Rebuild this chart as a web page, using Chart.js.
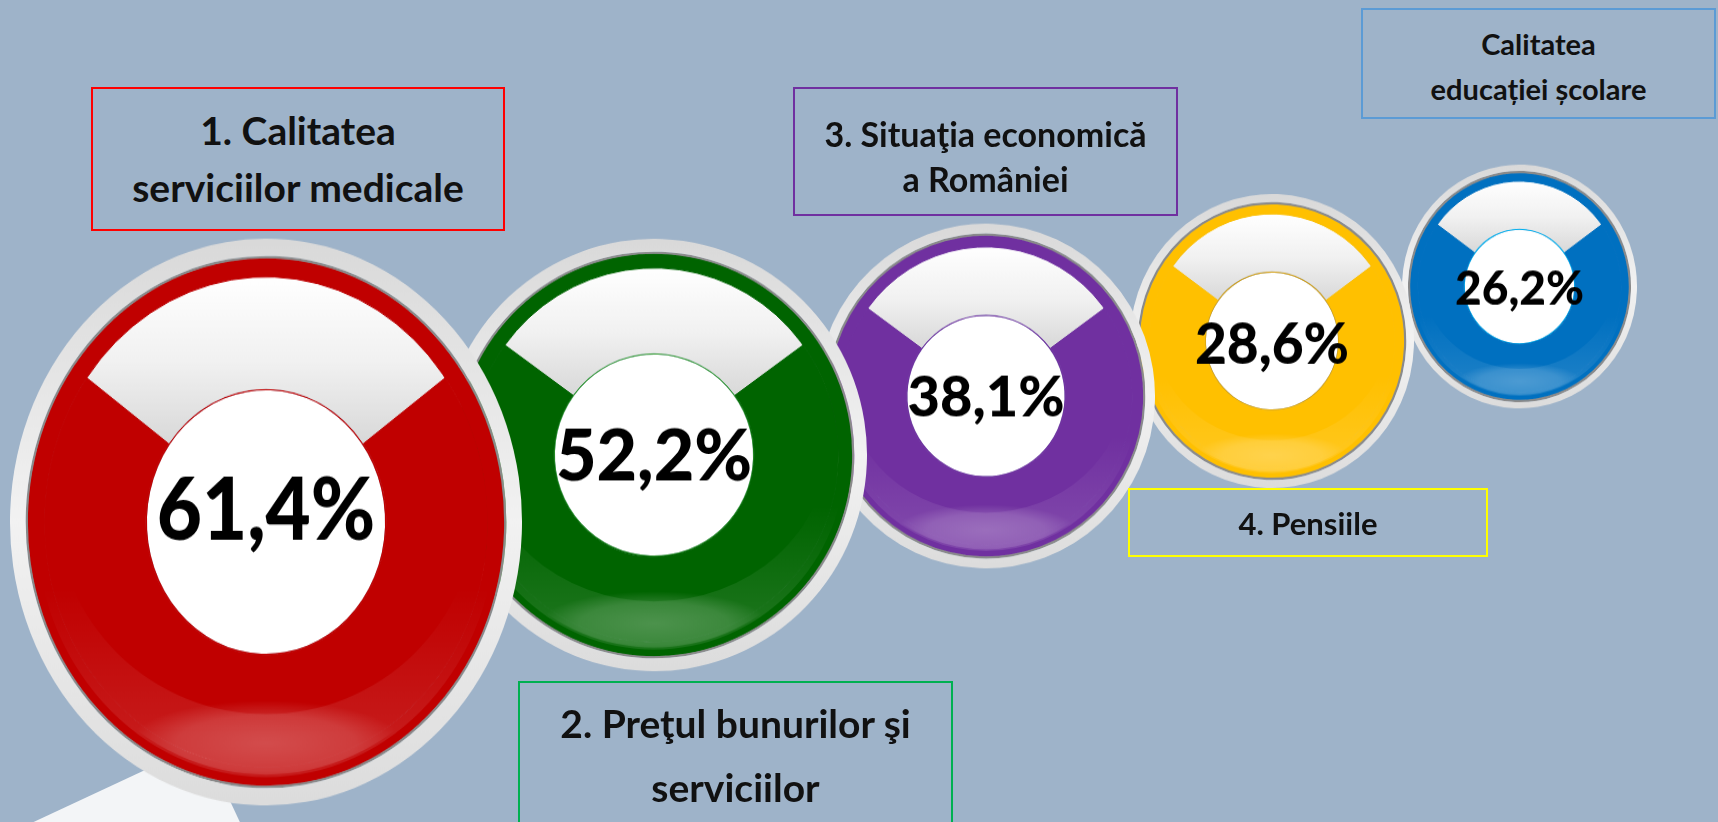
<!DOCTYPE html>
<html>
<head>
<meta charset="utf-8">
<script src="https://cdn.jsdelivr.net/npm/chart.js@4.4.0/dist/chart.umd.min.js"></script>
<style>
  html, body { margin: 0; padding: 0; }
  body {
    width: 1718px; height: 822px; position: relative; overflow: hidden;
    background: #9eb3c9; font-family: Lato, "Open Sans", sans-serif;
  }
  .ring { position: absolute; transform-origin: 50% 50%; }
  .ring canvas { display: block; }
  .label {
    position: absolute; box-sizing: border-box; border: 2px solid;
    display: flex; flex-direction: column; justify-content: center;
    color: #111; font-weight: bold; text-align: center; z-index: 20;
    white-space: nowrap;
  }
  .paper {
    position: absolute; left: -97px; top: 743px; width: 300px; height: 260px;
    background: #f3f5f7; transform-origin: 100% 0; transform: rotate(-25deg);
  }
</style>
</head>
<body>
<div class="paper"></div>
<script>
// data
var categories = [
  ['1. Calitatea', 'serviciilor medicale'],
  ['2. Preţul bunurilor şi', 'serviciilor'],
  ['3. Situaţia economică', 'a României'],
  ['4. Pensiile'],
  ['Calitatea', 'educației școlare']
];
var values = [61.4, 52.2, 38.1, 28.6, 26.2];
var colors = ['#c00000', '#006400', '#7030a0', '#ffc000', '#0070c0'];
var innerLineColors = ['#c00000', '#339933', '#7030a0', '#d4a017', '#00b0f0'];
var boxColors = ['#ff0000', '#00b050', '#7030a0', '#ffff00', '#5b9bd5'];

// layout (position, size, font)
var circleLayout = [
  { cx: 266, cy: 522, r: 237, sy: 1.107, fs: 78, dy: -13 },
  { cx: 654, cy: 455, r: 197, sy: 1.015, fs: 70, dy: 0 },
  { cx: 986, cy: 396, r: 156, sy: 1.02, fs: 56, dy: 0 },
  { cx: 1272, cy: 341, r: 131, sy: 1.035, fs: 55, dy: 2 },
  { cx: 1519, cy: 286, r: 108, sy: 1.037, fs: 46, dy: 1 }
];
var boxLayout = [
  { x: 91, y: 87, w: 414, h: 144, fs: 39, lh: 57, dy: 0 },
  { x: 518, y: 681, w: 435, h: 170, fs: 39, lh: 64, dy: -11 },
  { x: 793, y: 87, w: 385, h: 129, fs: 34, lh: 45, dy: 4 },
  { x: 1128, y: 488, w: 360, h: 69, fs: 31, lh: 40, dy: 0 },
  { x: 1361, y: 8, w: 355, h: 111, fs: 29, lh: 45, dy: 2 }
];

var HALO = 1.075;    // halo outer radius / disc radius
var wedgeDeg = 108;  // white wedge at the top

function geom(chart) {
  var a = chart.chartArea;
  var cx = (a.left + a.right) / 2;
  var cy = (a.top + a.bottom) / 2;
  var R = (Math.min(a.right - a.left, a.bottom - a.top) - 1) / 2 / HALO;
  return { cx: cx, cy: cy, R: R };
}

var ringDecor = {
  id: 'ringDecor',
  afterDatasetsDraw: function (chart) {
    var g = geom(chart);
    var ctx = chart.ctx;
    var i = chart.options.itemIndex;
    var cx = g.cx, cy = g.cy, R = g.R;

    // glossy reflection at the bottom of the disc
    ctx.save();
    ctx.beginPath();
    ctx.arc(cx, cy, R * 0.97, 0, Math.PI * 2);
    ctx.ellipse(cx, cy - R * 0.05, R * 0.88, R * 0.78, 0, 0, Math.PI * 2);
    var band = ctx.createLinearGradient(0, cy + R * 0.25, 0, cy + R * 0.8);
    band.addColorStop(0, 'rgba(255,255,255,0)');
    band.addColorStop(1, 'rgba(255,255,255,0.1)');
    ctx.fillStyle = band;
    ctx.fill('evenodd');
    ctx.restore();

    ctx.save();
    ctx.beginPath();
    ctx.arc(cx, cy, R * 0.96, 0, Math.PI * 2);
    ctx.clip();
    ctx.translate(cx, cy + R * 0.84);
    ctx.scale(1, 0.28);
    var spot = ctx.createRadialGradient(0, 0, 0, 0, 0, R * 0.58);
    spot.addColorStop(0, 'rgba(255,255,255,0.22)');
    spot.addColorStop(0.65, 'rgba(255,255,255,0.15)');
    spot.addColorStop(1, 'rgba(255,255,255,0)');
    ctx.fillStyle = spot;
    ctx.beginPath();
    ctx.arc(0, 0, R * 0.58, 0, Math.PI * 2);
    ctx.fill();
    ctx.restore();

    // value in the middle
    var L = circleLayout[i];
    ctx.save();
    ctx.font = '900 ' + L.fs + 'px Lato, "Open Sans", sans-serif';
    ctx.fillStyle = '#000';
    ctx.textAlign = 'center';
    ctx.textBaseline = 'alphabetic';
    ctx.fillText(values[i].toFixed(1).replace('.', ',') + '%', cx, cy + L.fs * 0.36 + L.dy / L.sy);
    ctx.restore();
  }
};

function haloFill(c) {
  var chart = c.chart;
  if (!chart.chartArea) return '#e6e6e6';
  var g = geom(chart);
  var gr = chart.ctx.createLinearGradient(0, g.cy - g.R * HALO, 0, g.cy + g.R * HALO);
  gr.addColorStop(0, '#d9d9d9');
  gr.addColorStop(0.5, '#f2f2f2');
  gr.addColorStop(1, '#dcdcdc');
  return gr;
}

function makeRing(i) {
  var L = circleLayout[i];
  var size = Math.ceil(2 * HALO * L.r) + 2;
  var box = document.createElement('div');
  box.className = 'ring';
  box.style.left = (L.cx - size / 2) + 'px';
  box.style.top = (L.cy - size / 2) + 'px';
  box.style.width = size + 'px';
  box.style.height = size + 'px';
  box.style.transform = 'scaleY(' + L.sy + ')';
  box.style.zIndex = 10 - i;
  var cv = document.createElement('canvas');
  box.appendChild(cv);
  document.body.appendChild(box);

  var lineW = 2.2 / L.r;
  var innerLineW = 1.2 / L.r;
  var color = colors[i];

  new Chart(cv, {
    type: 'doughnut',
    data: {
      labels: ['', categories[i].join(' ')],
      datasets: [
        { data: [1], backgroundColor: haloFill, borderWidth: 0, weight: HALO - 1 - lineW },
        { data: [1], backgroundColor: '#8a8a8a', borderWidth: 0, weight: lineW },
        { data: [1], backgroundColor: color, borderColor: color, borderWidth: 1, weight: 0.07 },
        {
          data: [wedgeDeg, 360 - wedgeDeg],
          backgroundColor: function (c) {
            if (c.dataIndex === 1) return color;
            var chart = c.chart;
            if (!chart.chartArea) return '#eee';
            var g = geom(chart);
            var gr = chart.ctx.createLinearGradient(0, g.cy - g.R * 0.93, 0, g.cy - g.R * 0.22);
            gr.addColorStop(0, '#ffffff');
            gr.addColorStop(0.45, '#f1f1f1');
            gr.addColorStop(1, '#d2d2d2');
            return gr;
          },
          borderColor: color,
          borderWidth: [0, 1],
          weight: 0.43 - innerLineW
        },
        { data: [1], backgroundColor: innerLineColors[i], borderWidth: 0, weight: innerLineW },
        { data: [1], backgroundColor: '#ffffff', borderWidth: 0, weight: 0.5 }
      ]
    },
    options: {
      itemIndex: i,
      responsive: true,
      maintainAspectRatio: false,
      animation: false,
      events: [],
      cutout: 0,
      rotation: -wedgeDeg / 2,
      layout: { padding: 0 },
      plugins: { legend: { display: false }, tooltip: { enabled: false } }
    },
    plugins: [ringDecor]
  });
}

function makeLabel(i) {
  var B = boxLayout[i];
  var d = document.createElement('div');
  d.className = 'label';
  d.style.left = B.x + 'px';
  d.style.top = B.y + 'px';
  d.style.width = B.w + 'px';
  d.style.height = B.h + 'px';
  d.style.borderColor = boxColors[i];
  d.style.fontSize = B.fs + 'px';
  d.style.lineHeight = B.lh + 'px';
  var inner = document.createElement('div');
  inner.style.transform = 'translateY(' + B.dy + 'px)';
  inner.innerHTML = categories[i].join('<br>');
  d.appendChild(inner);
  document.body.appendChild(d);
}

for (var i = 0; i < values.length; i++) {
  makeRing(i);
  makeLabel(i);
}
</script>
</body>
</html>
